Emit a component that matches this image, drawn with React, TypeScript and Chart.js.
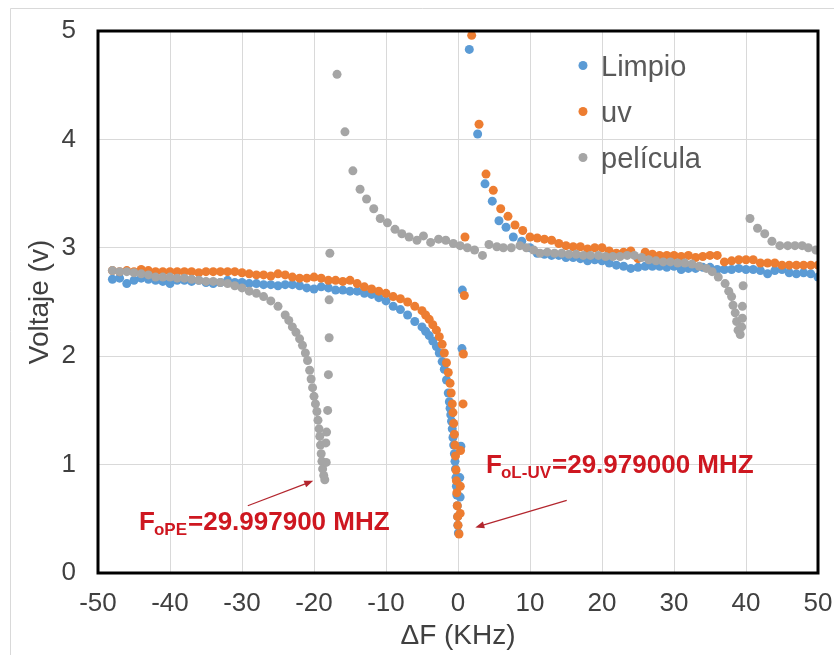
import React, { useEffect, useRef } from "react";
import { Chart, registerables } from "chart.js";

Chart.register(...registerables);

// ---------- data ----------
const seriesNames = ["Limpio", "uv", "película"];
const seriesColors = ["#5B9BD5", "#ED7D31", "#A5A5A5"];

const xTickValues = [-50, -40, -30, -20, -10, 0, 10, 20, 30, 40, 50];
const yTickValues = [0, 1, 2, 3, 4, 5];

const limpioX = [
  -48, -47, -46, -45, -44, -43, -42, -41, -40, -39,
  -38, -37, -36, -35, -34, -33, -32, -31, -30, -29,
  -28, -27, -26, -25, -24, -23, -22, -21, -20, -19,
  -18, -17, -16, -15, -14, -13, -12, -11, -10, -9,
  -8, -7, -6, -5, -4.5, -4, -3.5, -3, -2.6, -2.2,
  -1.9, -1.6, -1.35, -1.2, -1.1, -1.0, -0.9, -0.8, -0.7, -0.6,
  -0.5, -0.42, -0.35, -0.28, -0.22, -0.16, -0.1, -0.05, -0.02, 0.05,
  0.25, 0.3, 0.4, 0.55, 0.6, 1.57, 2.73, 3.75, 4.76, 5.69,
  6.67, 7.68, 8.85, 10, 11, 12, 13, 14, 15, 16,
  17, 18, 19, 20, 21, 22, 23, 24, 25, 26,
  27, 28, 29, 30, 31, 32, 33, 34, 35, 36,
  37, 38, 39, 40, 41, 42, 43, 44, 45, 46,
  47, 48, 49, 50,
];
const limpioY = [
  2.71, 2.72, 2.67, 2.70, 2.72, 2.71, 2.70, 2.69, 2.67, 2.70,
  2.70, 2.69, 2.70, 2.68, 2.67, 2.68, 2.70, 2.68, 2.68, 2.67,
  2.67, 2.66, 2.66, 2.65, 2.66, 2.66, 2.65, 2.63, 2.62, 2.64,
  2.63, 2.61, 2.61, 2.60, 2.60, 2.58, 2.57, 2.54, 2.51, 2.46,
  2.43, 2.38, 2.32, 2.27, 2.23, 2.19, 2.14, 2.09, 2.03, 1.95,
  1.88, 1.78, 1.66, 1.58, 1.52, 1.46, 1.40, 1.33, 1.25, 1.18,
  1.10, 1.03, 0.96, 0.88, 0.80, 0.72, 0.62, 0.52, 0.44, 0.37,
  0.88, 0.70, 1.17, 2.07, 2.61, 4.83, 4.05, 3.59, 3.43, 3.25,
  3.19, 3.10, 3.06, 3.00, 2.95, 2.94, 2.93, 2.93, 2.91, 2.91,
  2.90, 2.88, 2.89, 2.88, 2.86, 2.84, 2.83, 2.81, 2.82, 2.83,
  2.83, 2.83, 2.82, 2.83, 2.80, 2.81, 2.81, 2.82, 2.82, 2.80,
  2.80, 2.80, 2.81, 2.80, 2.80, 2.79, 2.76, 2.79, 2.80, 2.77,
  2.76, 2.77, 2.76, 2.73,
];

const uvX = [
  -48, -47, -46, -45, -44, -43, -42, -41, -40, -39,
  -38, -37, -36, -35, -34, -33, -32, -31, -30, -29,
  -28, -27, -26, -25, -24, -23, -22, -21, -20, -19,
  -18, -17, -16, -15, -14, -13, -12, -11, -10, -9,
  -8, -7, -6, -5, -4.5, -4, -3.5, -3, -2.6, -2.2,
  -1.9, -1.6, -1.35, -1.1, -0.95, -0.8, -0.7, -0.6, -0.5, -0.42,
  -0.35, -0.28, -0.22, -0.16, -0.1, -0.05, 0.0, 0.14, 0.3, 0.32,
  0.35, 0.7, 0.75, 0.88, 0.97, 1.9, 2.92, 3.89, 4.9, 5.93,
  6.94, 7.92, 8.99, 10, 11, 12, 13, 14, 15, 16,
  17, 18, 19, 20, 21, 22, 23, 24, 25, 26,
  27, 28, 29, 30, 31, 32, 33, 34, 35, 36,
  37, 38, 39, 40, 41, 42, 43, 44, 45, 46,
  47, 48, 49, 50,
];
const uvY = [
  2.79, 2.78, 2.79, 2.78, 2.80, 2.79, 2.78, 2.78, 2.78, 2.78,
  2.78, 2.78, 2.77, 2.78, 2.78, 2.78, 2.78, 2.78, 2.77, 2.76,
  2.75, 2.75, 2.74, 2.76, 2.75, 2.73, 2.72, 2.72, 2.73, 2.72,
  2.70, 2.70, 2.69, 2.70, 2.67, 2.64, 2.62, 2.60, 2.58, 2.55,
  2.53, 2.50, 2.46, 2.42, 2.38, 2.34, 2.29, 2.24, 2.18, 2.11,
  2.03, 1.94, 1.85, 1.75, 1.66, 1.56, 1.48, 1.38, 1.28, 1.18,
  1.08, 0.95, 0.85, 0.74, 0.62, 0.52, 0.44, 0.36, 0.55, 0.80,
  1.13, 1.56, 2.02, 2.56, 3.10, 4.96, 4.14, 3.68, 3.53, 3.36,
  3.29, 3.21, 3.16, 3.10, 3.09, 3.08, 3.07, 3.04, 3.02, 3.01,
  3.01, 2.99, 3.00, 3.00, 2.97, 2.95, 2.96, 2.97, 2.90, 2.96,
  2.94, 2.93, 2.93, 2.93, 2.92, 2.93, 2.91, 2.92, 2.93, 2.93,
  2.87, 2.88, 2.89, 2.89, 2.89, 2.86, 2.86, 2.86, 2.84, 2.84,
  2.84, 2.84, 2.84, 2.84,
];

const peliculaX = [
  -48, -47, -46, -45, -44, -43, -42, -41, -40, -39,
  -38, -37, -36, -35, -34, -33, -32, -31, -30, -29,
  -28, -27, -26, -25, -24, -23.5, -23, -22.5, -22, -21.6,
  -21.2, -20.9, -20.6, -20.4, -20.2, -20, -19.8, -19.6, -19.45, -19.3,
  -19.2, -19.1, -19.0, -18.9, -18.8, -18.65, -18.5, -18.3, -18.35, -18.25,
  -18.1, -18.0, -17.9, -17.9, -17.8, -16.8, -15.7, -14.6, -13.6, -12.7,
  -11.7, -10.8, -9.8, -8.75, -7.8, -6.8, -5.7, -4.8, -3.8, -2.7,
  -1.7, -0.65, 0.3, 1.3, 2.3, 3.4, 4.3, 5.4, 6.3, 7.4,
  8.6, 9.5, 10.5, 11.4, 12.4, 13.4, 14.4, 15.4, 16.4, 17.4,
  18.4, 19.5, 20.5, 21.5, 22.5, 23.5, 24.5, 25.5, 26.5, 27.5,
  28.5, 29.5, 30.5, 31.5, 32.5, 33.5, 34.5, 35.3, 36.15, 37.1,
  37.6, 38.0, 38.2, 38.5, 38.7, 38.9, 39.2, 39.4, 39.5, 39.5,
  39.6, 40.55, 41.6, 42.6, 43.6, 44.7, 45.8, 46.8, 47.8, 48.65,
  49.7,
];
const peliculaY = [
  2.79, 2.78, 2.78, 2.77, 2.76, 2.75, 2.73, 2.73, 2.73, 2.72,
  2.72, 2.71, 2.70, 2.69, 2.69, 2.68, 2.67, 2.65, 2.63, 2.60,
  2.58, 2.55, 2.51, 2.46, 2.38, 2.33, 2.27, 2.22, 2.16, 2.10,
  2.03, 1.96, 1.87, 1.79, 1.71, 1.63, 1.56, 1.49, 1.41, 1.33,
  1.26, 1.18, 1.10, 1.03, 0.96, 0.90, 0.86, 1.02, 1.20, 1.30,
  1.50, 1.83, 2.17, 2.52, 2.95, 4.60, 4.07, 3.71, 3.54, 3.45,
  3.36, 3.27, 3.23, 3.17, 3.13, 3.10, 3.07, 3.11, 3.05, 3.08,
  3.07, 3.04, 3.02, 3.00, 2.98, 2.93, 3.03, 3.01, 3.00, 3.00,
  3.02, 3.00, 2.98, 2.95, 2.96, 2.95, 2.95, 2.94, 2.94, 2.93,
  2.93, 2.93, 2.92, 2.92, 2.92, 2.93, 2.93, 2.91, 2.89, 2.88,
  2.87, 2.87, 2.86, 2.86, 2.85, 2.83, 2.81, 2.78, 2.73, 2.67,
  2.60, 2.55, 2.47, 2.40, 2.32, 2.24, 2.20, 2.27, 2.35, 2.46,
  2.65, 3.27, 3.18, 3.13, 3.06, 3.02, 3.02, 3.02, 3.02, 3.00,
  2.98,
];

const xTitle = "ΔF (KHz)";
const yTitle = "Voltaje (v)";

const annotations = [
  { x: -44.3, y: 0.40, main: "F", sub: "oPE", rest: "=29.997900 MHZ", from: [-29.2, 0.62], to: [-20.1, 0.85] },
  { x: 3.9, y: 0.92, main: "F", sub: "oL-UV", rest: "=29.979000 MHZ", from: [15.1, 0.67], to: [2.4, 0.42] },
];

// ---------- styling ----------
const FONT = "'Liberation Sans', Arial, sans-serif";
const TEXT_GRAY = "#595959";
const AXIS_TEXT = "#404040";
const RED = "#CE1720";
const ARROW_RED = "#B3262E";

const toPoints = (xs: number[], ys: number[]) => xs.map((x, i) => ({ x, y: ys[i] }));

const decorPlugin = {
  id: "decor",
  beforeDraw(chart: any) {
    const { ctx, width, height } = chart;
    ctx.save();
    ctx.fillStyle = "#ffffff";
    ctx.fillRect(0, 0, width, height);
    ctx.strokeStyle = "#d9d9d9";
    ctx.lineWidth = 1;
    ctx.beginPath();
    ctx.moveTo(10.5, height);
    ctx.lineTo(10.5, 8.5);
    ctx.lineTo(width, 8.5);
    ctx.stroke();
    ctx.restore();
  },
  afterDatasetsDraw(chart: any) {
    const { ctx, chartArea: ca, scales } = chart;
    const xs = scales.x;
    const ys = scales.y;
    ctx.save();
    // plot frame
    ctx.strokeStyle = "#000";
    ctx.lineWidth = 3;
    ctx.strokeRect(ca.left, ca.top, ca.right - ca.left, ca.bottom - ca.top);

    // legend
    ctx.font = `29px ${FONT}`;
    ctx.textBaseline = "alphabetic";
    ctx.textAlign = "left";
    seriesNames.forEach((name, i) => {
      const base = ca.top + 45 + i * 46;
      ctx.fillStyle = seriesColors[i];
      ctx.beginPath();
      ctx.arc(ca.right - 235, base - 10.5, 4.5, 0, Math.PI * 2);
      ctx.fill();
      ctx.fillStyle = TEXT_GRAY;
      ctx.fillText(name, ca.right - 217, base);
    });

    // annotations
    annotations.forEach((a) => {
      let px = xs.getPixelForValue(a.x);
      const py = ys.getPixelForValue(a.y);
      ctx.fillStyle = RED;
      ctx.font = `bold 26px ${FONT}`;
      ctx.fillText(a.main, px, py);
      px += ctx.measureText(a.main).width - 1;
      ctx.font = `bold 17px ${FONT}`;
      ctx.fillText(a.sub, px, py + 5);
      px += ctx.measureText(a.sub).width + 1;
      ctx.font = `bold 26px ${FONT}`;
      ctx.fillText(a.rest, px, py);

      const x1 = xs.getPixelForValue(a.from[0]);
      const y1 = ys.getPixelForValue(a.from[1]);
      const x2 = xs.getPixelForValue(a.to[0]);
      const y2 = ys.getPixelForValue(a.to[1]);
      const ang = Math.atan2(y2 - y1, x2 - x1);
      const hl = 9;
      const hw = 3.5;
      ctx.strokeStyle = ARROW_RED;
      ctx.fillStyle = ARROW_RED;
      ctx.lineWidth = 1.2;
      ctx.beginPath();
      ctx.moveTo(x1, y1);
      ctx.lineTo(x2 - Math.cos(ang) * hl * 0.8, y2 - Math.sin(ang) * hl * 0.8);
      ctx.stroke();
      ctx.beginPath();
      ctx.moveTo(x2, y2);
      ctx.lineTo(x2 - Math.cos(ang) * hl + Math.sin(ang) * hw, y2 - Math.sin(ang) * hl - Math.cos(ang) * hw);
      ctx.lineTo(x2 - Math.cos(ang) * hl - Math.sin(ang) * hw, y2 - Math.sin(ang) * hl + Math.cos(ang) * hw);
      ctx.closePath();
      ctx.fill();
    });
    ctx.restore();
  },
};

export default function App() {
  const ref = useRef<HTMLCanvasElement>(null);

  useEffect(() => {
    if (!ref.current) return;
    const mk = (i: number, xs: number[], ys: number[], order: number) => ({
      label: seriesNames[i],
      data: toPoints(xs, ys),
      backgroundColor: seriesColors[i],
      borderColor: seriesColors[i],
      borderWidth: 0,
      pointRadius: 4.5,
      pointHoverRadius: 4.5,
      showLine: false,
      order,
    });
    const chart = new Chart(ref.current, {
      type: "scatter",
      data: {
        datasets: [
          mk(0, limpioX, limpioY, 3),
          mk(1, uvX, uvY, 2),
          mk(2, peliculaX, peliculaY, 1),
        ],
      },
      options: {
        animation: false,
        responsive: false,
        devicePixelRatio: 1,
        layout: { padding: { left: 0, top: 31, right: 16, bottom: 0 } },
        plugins: {
          legend: { display: false },
          tooltip: { enabled: false },
        },
        scales: {
          x: {
            type: "linear",
            min: -50,
            max: 50,
            afterBuildTicks: (s: any) => {
              s.ticks = xTickValues.map((v) => ({ value: v }));
            },
            afterFit: (s: any) => {
              s.height = 82;
              s.paddingLeft = 0;
              s.paddingRight = 0;
            },
            grid: { color: "#d9d9d9", lineWidth: 1, drawTicks: false },
            border: { display: false },
            ticks: {
              padding: 15,
              color: AXIS_TEXT,
              font: { family: FONT, size: 26 },
              maxRotation: 0,
              autoSkip: false,
            },
            title: {
              display: true,
              text: xTitle,
              color: AXIS_TEXT,
              font: { family: FONT, size: 28 },
              padding: { top: 0, bottom: 2 },
            },
          },
          y: {
            type: "linear",
            min: 0,
            max: 5,
            afterBuildTicks: (s: any) => {
              s.ticks = yTickValues.map((v) => ({ value: v }));
            },
            afterFit: (s: any) => {
              s.width = 98;
              s.paddingTop = 0;
              s.paddingBottom = 0;
            },
            grid: { color: "#d9d9d9", lineWidth: 1, drawTicks: false },
            border: { display: false },
            ticks: {
              padding: 22,
              color: AXIS_TEXT,
              font: { family: FONT, size: 26 },
              autoSkip: false,
            },
            title: {
              display: true,
              text: yTitle,
              color: AXIS_TEXT,
              font: { family: FONT, size: 28 },
              padding: { top: 23, bottom: 0 },
            },
          },
        },
      },
      plugins: [decorPlugin],
    } as any);
    return () => chart.destroy();
  }, []);

  return (
    <div style={{ position: "absolute", left: 0, top: 0, width: 834, height: 655, background: "#fff" }}>
      <canvas ref={ref} width={834} height={655} style={{ display: "block" }} />
    </div>
  );
}
